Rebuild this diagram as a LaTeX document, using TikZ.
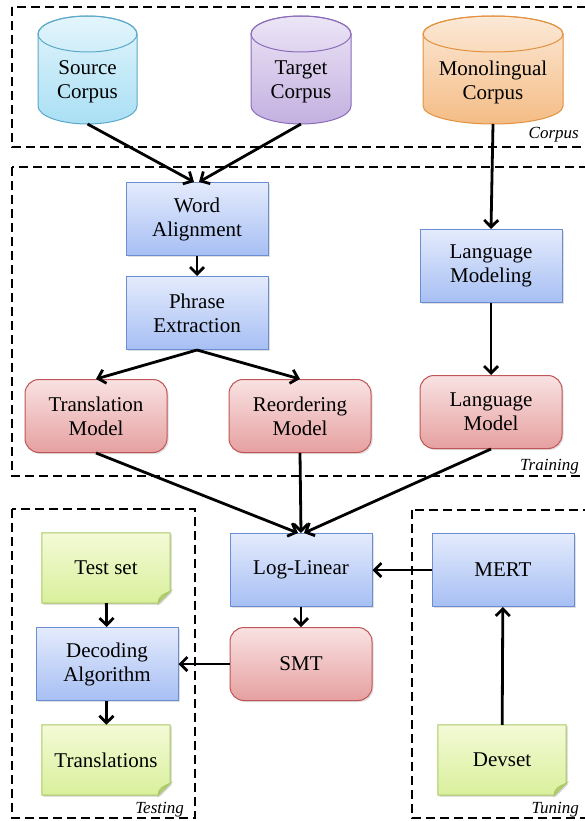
\documentclass[tikz,border=0pt]{standalone}
\usepackage{fontspec}
\setmainfont{Liberation Serif}
\usetikzlibrary{arrows.meta,shadows,backgrounds}

\definecolor{srcT}{HTML}{E3F5FC}\definecolor{srcB}{HTML}{A9DFF4}\definecolor{srcD}{HTML}{5BA8C8}
\definecolor{tgtT}{HTML}{ECE5F6}\definecolor{tgtB}{HTML}{C3B0E0}\definecolor{tgtD}{HTML}{8B6CB9}
\definecolor{monT}{HTML}{FCE9D7}\definecolor{monB}{HTML}{F4BC85}\definecolor{monD}{HTML}{E2913F}
\definecolor{bluT}{HTML}{E4EBFC}\definecolor{bluB}{HTML}{A7BFF4}\definecolor{bluD}{HTML}{6B8ED2}
\definecolor{redT}{HTML}{F9E2E2}\definecolor{redB}{HTML}{E6A0A0}\definecolor{redD}{HTML}{BF5555}
\definecolor{grnT}{HTML}{F4FAD6}\definecolor{grnB}{HTML}{D9F09C}\definecolor{grnD}{HTML}{A9C862}

% drum: centre x, half width, top y, bottom y, top colour, bottom colour, line colour
\newcommand{\corpusdrum}[7]{%
  \shade[top color=#5, bottom color=#6, draw=#7, line width=1pt]
    (#1-#2,#3+18) -- (#1-#2,#4-18)
    arc[start angle=180, end angle=0, x radius=#2, y radius=18]
    -- (#1+#2,#3+18)
    arc[start angle=0, end angle=-180, x radius=#2, y radius=18] -- cycle;
  \draw[#7, line width=1pt] (#1,#3+18) ellipse[x radius=#2, y radius=18];
}

\begin{document}
\begin{tikzpicture}[x=1pt,y=-1pt,
  font=\fontsize{21}{24}\selectfont,
  flow/.style={-{Straight Barb[length=7pt,width=14pt]}, line width=2.8pt},
  group/.style={dash pattern=on 9pt off 5pt, line width=2.4pt},
  grouplabel/.style={font=\fontsize{17}{20}\selectfont\itshape, anchor=base east, inner sep=0pt},
  softshadow/.style={drop shadow={opacity=0.25, shadow xshift=1.5pt, shadow yshift=-1.5pt}},
  procbox/.style={rectangle, draw=bluD, line width=1pt, top color=bluT, bottom color=bluB,
    minimum width=142pt, minimum height=73pt, align=center, softshadow},
  modelbox/.style={rectangle, rounded corners=14pt, draw=redD, line width=1pt, top color=redT,
    bottom color=redB, minimum width=142pt, minimum height=73pt, align=center, softshadow},
  drumtext/.style={align=center},
  notebox/.style={rectangle, minimum width=128pt, minimum height=70pt, align=center}
]
\useasboundingbox (0,0) rectangle (584,821);

% ---- corpora ----
\corpusdrum{87.5}{49.5}{16}{124}{srcT}{srcB}{srcD}
\corpusdrum{301}{50}{16}{124}{tgtT}{tgtB}{tgtD}
\corpusdrum{493}{70}{16}{124}{monT}{monB}{monD}
\node[drumtext] (src) at (87.5,82) {Source\\Corpus};
\node[drumtext] (tgt) at (301,82) {Target\\Corpus};
\node[drumtext] (mono) at (493,82) {Monolingual\\Corpus};
\coordinate (srcbot) at (87.5,124);
\coordinate (tgtbot) at (301,124);
\coordinate (monobot) at (493,124);

% ---- training ----
\node[procbox] (wa) at (197,219) {Word\\Alignment};
\node[procbox] (pe) at (197,313) {Phrase\\Extraction};
\node[modelbox] (tm) at (96,416) {Translation\\Model};
\node[modelbox] (rm) at (300,416) {Reordering\\Model};
\node[procbox] (lmg) at (491,266) {Language\\Modeling};
\node[modelbox] (lm) at (491,412) {Language\\Model};

% ---- decoding, testing, tuning ----
\node[procbox] (ll) at (301,570) {Log-Linear};
\node[modelbox] (smt) at (301,664) {SMT};
\node[notebox] (test) at (106,568) {Test set};
\node[procbox] (dec) at (107,664) {Decoding\\Algorithm};
\node[notebox] (trans) at (106,760) {Translations};
\node[procbox] (mert) at (503,570) {MERT};
\node[notebox] (dev) at (502,760) {Devset};

% note sheets with a folded corner
\begin{pgfonlayer}{background}
\foreach \n in {test,trans,dev}{
  \fill[black, opacity=0.18]
    ([xshift=1.5pt,yshift=-1.5pt]\n.north west) -- ([xshift=1.5pt,yshift=-1.5pt]\n.north east)
    -- ([xshift=1.5pt,yshift=10.5pt]\n.south east) -- ([xshift=-10.5pt,yshift=-1.5pt]\n.south east)
    -- ([xshift=1.5pt,yshift=-1.5pt]\n.south west) -- cycle;
  \shade[top color=grnT, bottom color=grnB, draw=grnD, line width=1pt]
    (\n.north west) -- (\n.north east) -- ([yshift=12pt]\n.south east)
    -- ([xshift=-12pt]\n.south east) -- (\n.south west) -- cycle;
  \filldraw[fill=grnD!70, draw=grnD, line width=0.8pt]
    ([yshift=12pt]\n.south east) .. controls ([xshift=-6pt,yshift=9pt]\n.south east) and ([xshift=-12pt,yshift=8pt]\n.south east) .. ([xshift=-12pt]\n.south east)
    .. controls ([xshift=-11pt,yshift=5pt]\n.south east) and ([xshift=-5pt,yshift=8pt]\n.south east) .. cycle;
}
\end{pgfonlayer}

% ---- group frames ----
\draw[group] (12,7) rectangle (600,147);
\node[grouplabel] (lcorpus) at (579,139) {Corpus};
\draw[group] (12,167) rectangle (600,476);
\node[grouplabel] (ltrain) at (579,470) {Training};
\draw[group] (12,509) rectangle (195,818);
\node[grouplabel] (ltest) at (184,813) {Testing};
\draw[group] (412,510) rectangle (600,818);
\node[grouplabel] (ltune) at (579,813) {Tuning};

% ---- connectors ----
\draw[flow] (srcbot) -- ([xshift=-3pt]wa.north);
\draw[flow] (tgtbot) -- ([xshift=2pt]wa.north);
\draw[flow] (monobot) -- (lmg.north);
\draw[flow] (wa) -- (pe);
\draw[flow] (pe.south) -- (tm.north);
\draw[flow] (pe.south) -- (rm.north);
\draw[flow] (lmg) -- (lm);
\draw[flow] (tm.south) -- ([xshift=-3pt]ll.north);
\draw[flow] (rm.south) -- (ll.north);
\draw[flow] (lm.south) -- ([xshift=3pt]ll.north);
\draw[flow] (ll) -- (smt);
\draw[flow] (smt) -- (dec);
\draw[flow] (mert) -- (ll);
\draw[flow] (dev) -- (mert);
\draw[flow] (test) -- (dec);
\draw[flow] (dec) -- (trans);
\end{tikzpicture}
\end{document}
